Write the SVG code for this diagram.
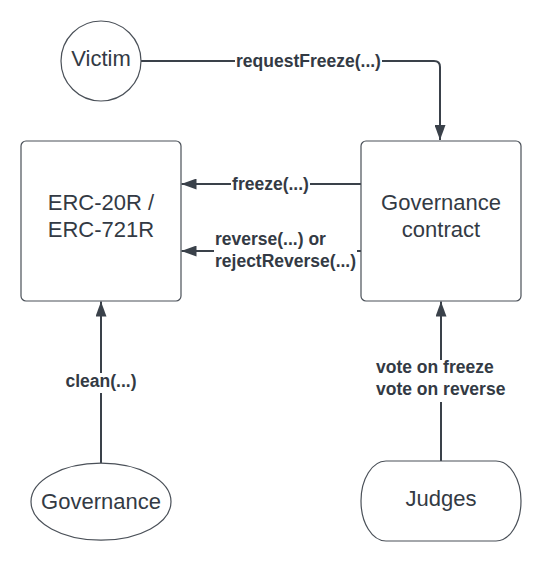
<svg xmlns="http://www.w3.org/2000/svg" width="541" height="561" viewBox="0 0 541 561">
<style>
.shape{fill:#ffffff;stroke:#4a5058;stroke-width:1.2}
.node{font-family:"Liberation Sans",Arial,sans-serif;font-size:22px;fill:#333a44;text-anchor:middle}
.conn{fill:none;stroke:#3a414a;stroke-width:2}
.lbl{font-family:"Liberation Sans",Arial,sans-serif;font-size:17.5px;font-weight:bold;fill:#333a44}
.mid{text-anchor:middle}
</style>
<defs>
<marker id="arr" viewBox="0 0 15 11" refX="15" refY="5.5" markerWidth="15" markerHeight="11" markerUnits="userSpaceOnUse" orient="auto">
<path d="M0,0 L15,5.5 L0,11 Z" fill="#3a414a"/>
</marker>
</defs>
<rect width="541" height="561" fill="#ffffff"/>
<g id="connectors">
<path class="conn" d="M141,61 H235"/>
<path class="conn" d="M382,61 H434 Q440,61 440,67 V140" marker-end="url(#arr)"/>
<text class="lbl mid" x="308.5" y="67">requestFreeze(...)</text>
<path class="conn" d="M361,184 H310"/>
<path class="conn" d="M231,184 H181.5" marker-end="url(#arr)"/>
<text class="lbl mid" x="270.5" y="190">freeze(...)</text>
<path class="conn" d="M361,251 H357"/>
<path class="conn" d="M214,251 H181.5" marker-end="url(#arr)"/>
<text class="lbl" x="215" y="245">reverse(...) or</text>
<text class="lbl" x="215" y="267">rejectReverse(...)</text>
<path class="conn" d="M101,373 V301.5" marker-end="url(#arr)"/>
<path class="conn" d="M101,463.5 V393"/>
<text class="lbl mid" x="101" y="387">clean(...)</text>
<path class="conn" d="M441,360 V301.5" marker-end="url(#arr)"/>
<path class="conn" d="M441,461 V402"/>
<text class="lbl" x="376" y="373">vote on freeze</text>
<text class="lbl" x="376" y="394.5">vote on reverse</text>
</g>
<g id="victim">
<circle class="shape" cx="101" cy="61" r="40"/>
<text class="node" x="101" y="66">Victim</text>
</g>
<g id="erc">
<rect class="shape" x="21" y="141" width="160" height="160" rx="5"/>
<text class="node" x="101" y="210">ERC-20R /</text>
<text class="node" x="101" y="237">ERC-721R</text>
</g>
<g id="governance-contract">
<rect class="shape" x="361" y="141" width="160" height="160" rx="5"/>
<text class="node" x="441" y="210">Governance</text>
<text class="node" x="441" y="237">contract</text>
</g>
<g id="governance">
<ellipse class="shape" cx="101" cy="501.7" rx="70" ry="38.5"/>
<text class="node" x="101" y="508.5">Governance</text>
</g>
<g id="judges">
<rect class="shape" x="361" y="461" width="160" height="80" rx="25" ry="40"/>
<text class="node" x="441" y="505.5">Judges</text>
</g>
</svg>
